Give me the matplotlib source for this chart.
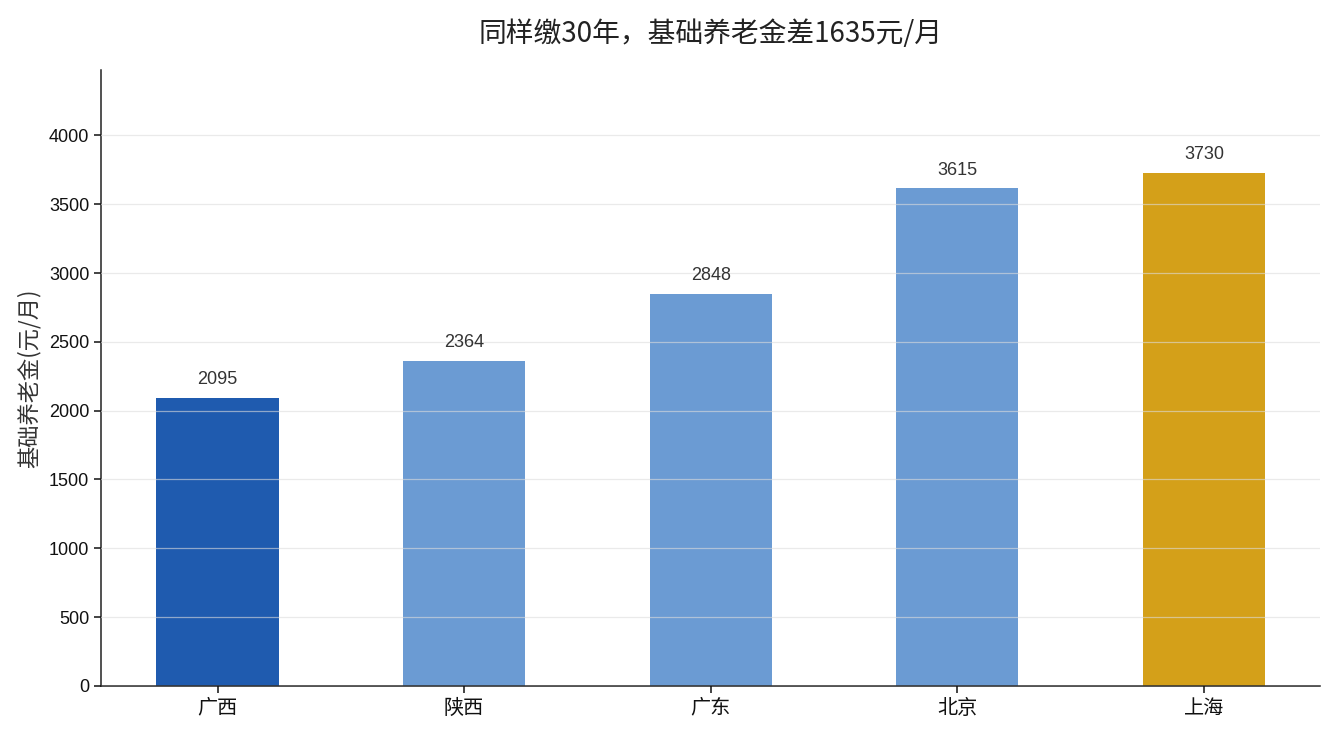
import numpy as np
import matplotlib
matplotlib.use("Agg")
import matplotlib.pyplot as plt

plt.rcParams['font.family'] = ['Liberation Sans', 'Noto Sans CJK SC', 'DejaVu Sans']

# data
regions = ["广西", "陕西", "广东", "北京", "上海"]
pension = [2095, 2364, 2848, 3615, 3730]
bar_colors = ["#1f5baf", "#6b9bd3", "#6b9bd3", "#6b9bd3", "#d4a019"]

fig = plt.figure(figsize=(13.35, 7.35), dpi=100)
ax = fig.add_axes([0.0757, 0.0667, 0.9133, 0.8383])

x = np.arange(len(regions))
bars = ax.bar(x, pension, width=0.495, color=bar_colors, zorder=2)

for xi, v in zip(x, pension):
    ax.annotate(str(v), (xi, v), xytext=(0, 7), textcoords="offset points",
                ha="center", va="bottom", fontsize=13, color="#333333")

ax.set_xticks(x)
ax.set_xticklabels(regions, fontsize=14.5, family=['Noto Sans CJK SC'])
ax.set_ylim(0, max(pension) * 1.2)
ax.set_yticks(np.arange(0, 4001, 500))
ax.tick_params(axis="y", labelsize=13)
ax.tick_params(length=5, width=1.1, colors="#111111")
ax.yaxis.grid(True, color="#dddddd", alpha=0.6, linewidth=0.9, zorder=3)
ax.set_axisbelow(False)

for s in ["top", "right"]:
    ax.spines[s].set_visible(False)
for s in ["left", "bottom"]:
    ax.spines[s].set_linewidth(1.1)
    ax.spines[s].set_color("#222222")

ax.set_ylabel("基础养老金(元/月)", fontsize=16, family=['Noto Sans CJK SC'], color="#333333",
              labelpad=6)
ax.set_title("同样缴30年，基础养老金差1635元/月", fontsize=20,
             family=['Noto Sans CJK SC'], color="#222222", pad=20)

fig.savefig("out.png", dpi=100)
